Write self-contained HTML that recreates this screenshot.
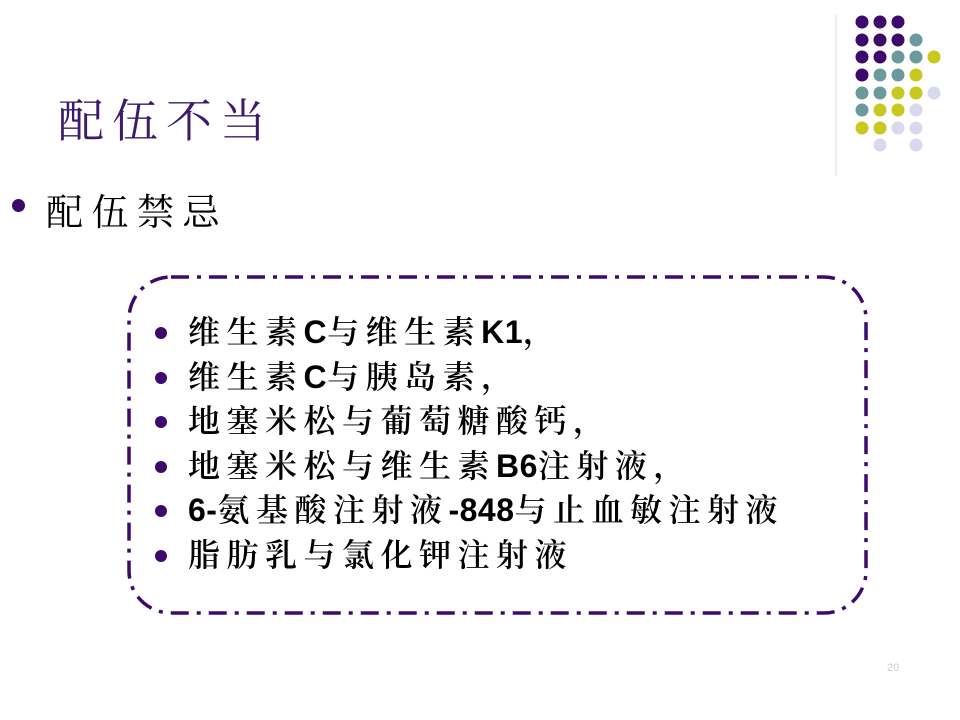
<!DOCTYPE html>
<html><head><meta charset="utf-8"><style>
body{margin:0;width:960px;height:720px;background:#fff;position:relative;overflow:hidden;font-family:"Liberation Sans","Noto Serif CJK SC",serif}
.abs{position:absolute;white-space:nowrap}
.t{font-size:32px;color:#000;line-height:37px;letter-spacing:6.5px;font-weight:600}
.t b{letter-spacing:0.5px;font-size:32px}
.b{position:absolute;width:12px;height:12px;border-radius:50%;background:#3d0a6b}
</style></head><body>
<svg class="abs" style="left:0;top:0" width="960" height="720">
<line x1="836" y1="15" x2="836" y2="176" stroke="#ddd" stroke-width="1"/>
<g id="d"></g>
<rect x="129" y="277" width="737" height="336" rx="42" fill="none" stroke="#3d0a6b" stroke-width="3.5" stroke-dasharray="18 8 4 8"/>
</svg>
<div class="abs" style="left:58px;top:85px;font-size:46px;letter-spacing:8px;color:#3d1a6b">配伍不当</div>
<div class="b" style="left:12px;top:199px;width:13px;height:13px"></div>
<div class="abs" style="left:46px;top:182px;font-size:37px;letter-spacing:8.5px">配伍禁忌</div>
<div class="abs t" style="left:188px;top:314px">维生素<b>C</b>与维生素<b>K1</b>，</div>
<div class="abs t" style="left:188px;top:359px">维生素<b>C</b>与胰岛素，</div>
<div class="abs t" style="left:188px;top:403px">地塞米松与葡萄糖酸钙，</div>
<div class="abs t" style="left:188px;top:448px">地塞米松与维生素<b>B6</b>注射液，</div>
<div class="abs t" style="left:188px;top:492px"><b>6-</b>氨基酸注射液<b>-848</b>与止血敏注射液</div>
<div class="abs t" style="left:188px;top:537px">脂肪乳与氯化钾注射液</div>
<div class="b" style="left:155px;top:327px"></div>
<div class="b" style="left:155px;top:372px"></div>
<div class="b" style="left:155px;top:416px"></div>
<div class="b" style="left:155px;top:461px"></div>
<div class="b" style="left:155px;top:505px"></div>
<div class="b" style="left:155px;top:550px"></div>
<div class="abs" style="left:887px;top:662px;font-size:11px;color:#ccc">20</div>
<script>
var P="#3d0a6b",T="#6a9a9e",Y="#c8c81e",L="#d9d9ee",_=null;
var g=[[P,P,P],[P,P,P,T],[P,P,T,T,Y],[P,T,T,Y],[T,T,Y,Y,L],[T,Y,Y,L],[Y,Y,L,L],[_,L,_,L]];
var xs=[862,880,898,916,934],ys=[22,40,57,75,93,110,128,145],s="";
g.forEach((r,i)=>r.forEach((c,j)=>{if(c)s+='<circle cx="'+xs[j]+'" cy="'+ys[i]+'" r="6.5" fill="'+c+'"/>';}));
document.getElementById("d").innerHTML=s;
</script>
</body></html>
